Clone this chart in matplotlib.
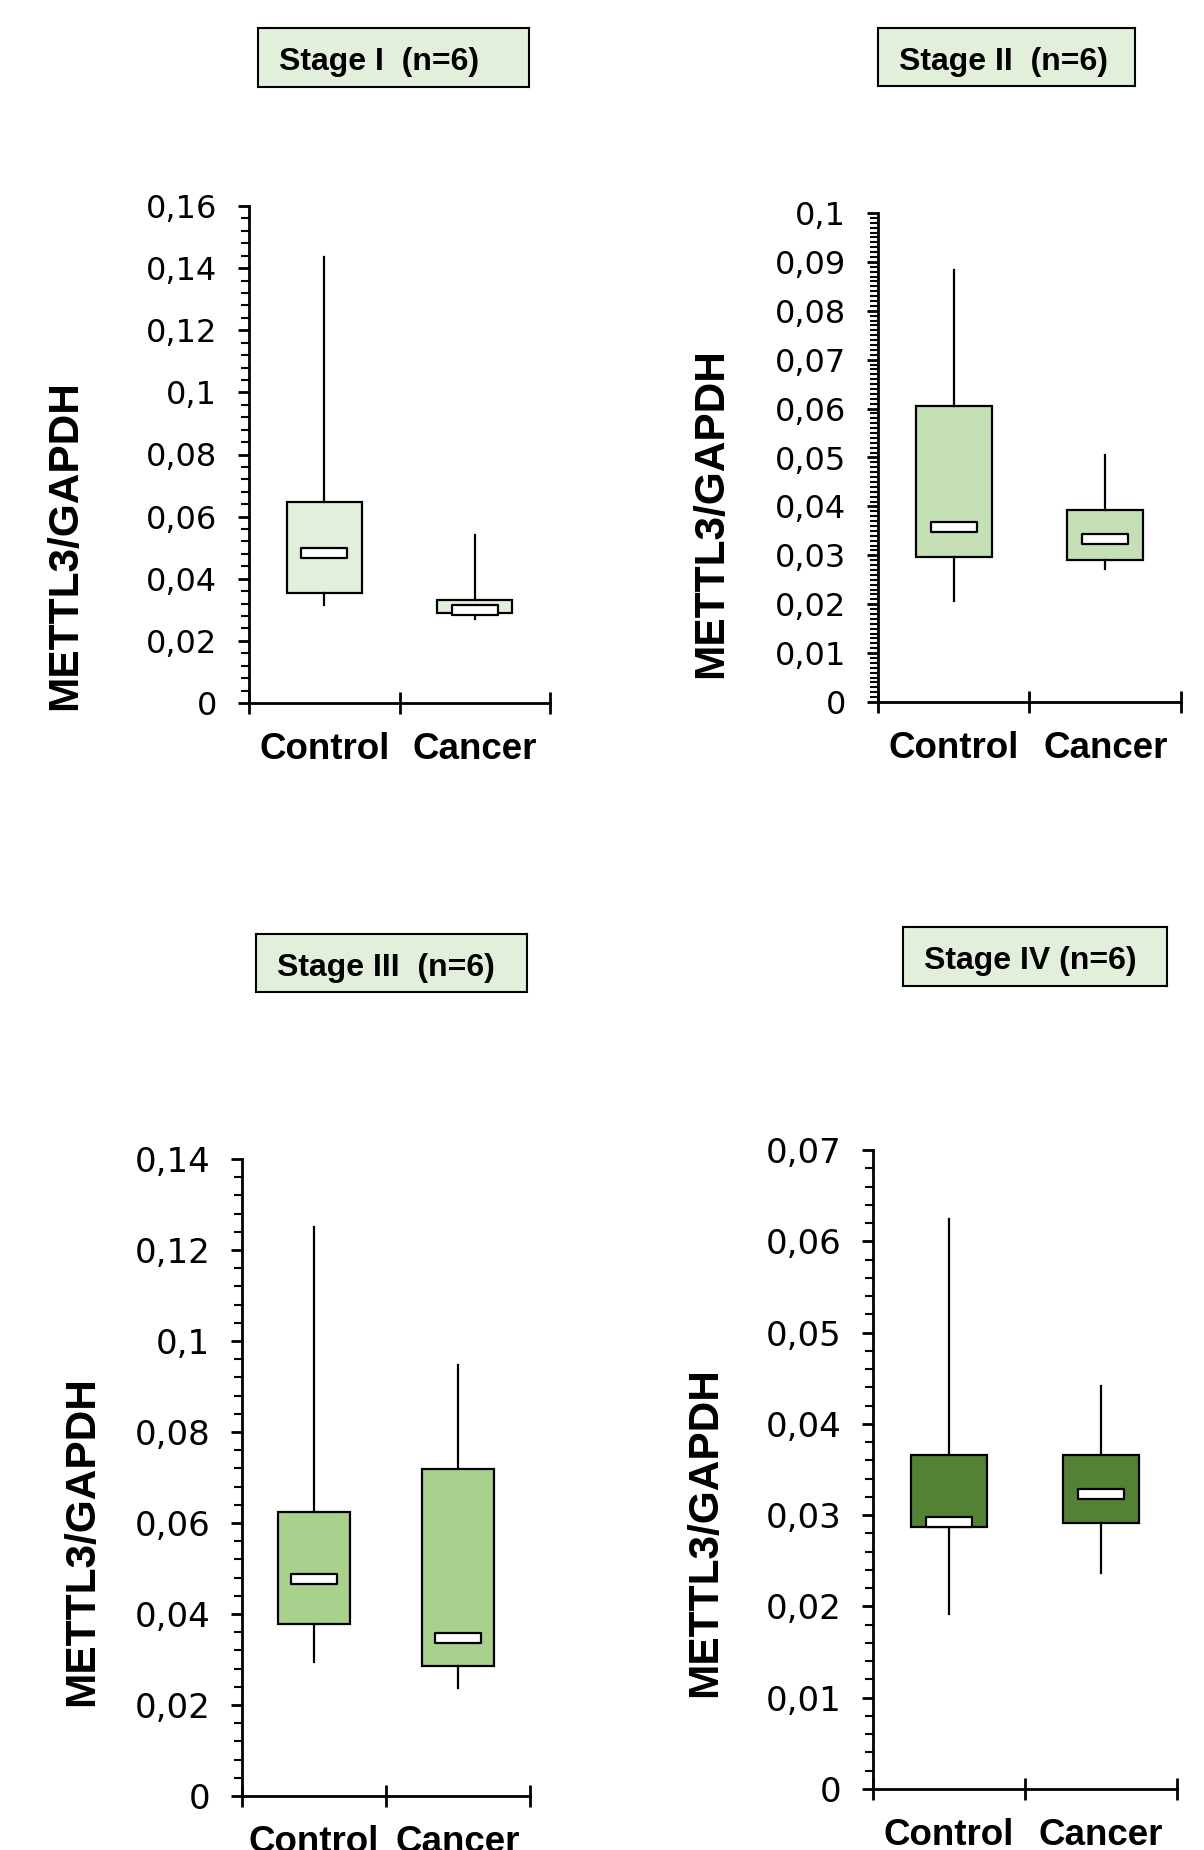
import numpy as np
import matplotlib
matplotlib.use("Agg")
import matplotlib.pyplot as plt
from matplotlib.path import Path
from matplotlib.ticker import MultipleLocator, FixedLocator, FuncFormatter

# values (METTL3/GAPDH), one row per stage, [Control, Cancer]
categories = ["Control", "Cancer"]
stage_titles = ["Stage I  (n=6)", "Stage II  (n=6)", "Stage III  (n=6)", "Stage IV (n=6)"]

whisker_low = [[0.0314, 0.0272], [0.0206, 0.0273], [0.0294, 0.0238], [0.0192, 0.0237]]
q1 = [[0.0353, 0.0289], [0.0296, 0.0291], [0.0378, 0.0286], [0.0287, 0.0291]]
median = [[0.0482, 0.0301], [0.0358, 0.0333], [0.0478, 0.0347], [0.0292, 0.0323]]
q3 = [[0.0648, 0.0333], [0.0605, 0.0392], [0.0625, 0.0719], [0.0366, 0.0366]]
whisker_high = [[0.1436, 0.0541], [0.0883, 0.0506], [0.1251, 0.0948], [0.0624, 0.0441]]

y_max = [0.16, 0.1, 0.14, 0.07]
y_major = [0.02, 0.01, 0.02, 0.01]
y_minor = [0.004, 0.001, 0.004, 0.002]

box_colors = ["#E2EFDA", "#C5E0B4", "#A9D18E", "#548235"]
title_fill = "#E2EFDA"

W, H = 1204, 1850
# layout in pixels (x0, y0, x1, y1), top-left origin
axes_px = [(249, 206, 550, 703), (878, 213, 1181, 702),
           (242, 1159, 530, 1796), (873, 1150, 1177, 1789)]
title_px = [(258, 28, 529, 87), (878, 28, 1135, 86),
            (256, 934, 527, 992), (903, 927, 1167, 986)]
ylabel_px = [(65, 545), (711, 513), (82, 1541), (705, 1532)]
tick_sizes = [23, 23, 24.5, 24.5]

BOLD = "Liberation Sans"


def fig_rect(px):
    x0, y0, x1, y1 = px
    return [x0 / W, (H - y1) / H, (x1 - x0) / W, (y1 - y0) / H]


def comma_fmt(v, pos):
    s = f"{v:.3f}".rstrip("0").rstrip(".")
    return s.replace(".", ",")


# flat white median marker
med_marker = Path([(-1, -0.2), (1, -0.2), (1, 0.2), (-1, 0.2), (-1, -0.2)],
                  [Path.MOVETO, Path.LINETO, Path.LINETO, Path.LINETO, Path.CLOSEPOLY])

fig = plt.figure(figsize=(W / 100, H / 100), dpi=100)

for i in range(4):
    ax = fig.add_axes(fig_rect(axes_px[i]))
    stats = []
    for j in range(2):
        stats.append({"med": median[i][j], "q1": q1[i][j], "q3": q3[i][j],
                      "whislo": whisker_low[i][j], "whishi": whisker_high[i][j],
                      "fliers": []})
    ax.bxp(stats, positions=[1, 2], widths=0.5, patch_artist=True,
           showcaps=False, showfliers=False,
           boxprops=dict(facecolor=box_colors[i], edgecolor="black", linewidth=1.6),
           whiskerprops=dict(color="black", linewidth=1.6),
           medianprops=dict(linewidth=0))
    ax.plot([1, 2], median[i], ls="none", marker=med_marker, ms=33,
            mfc="white", mec="black", mew=1.6, zorder=5)

    ax.set_xlim(0.5, 2.5)
    ax.set_ylim(0, y_max[i])
    for s in ["top", "right"]:
        ax.spines[s].set_visible(False)
    for s in ["left", "bottom"]:
        ax.spines[s].set_linewidth(2)

    ax.yaxis.set_major_locator(MultipleLocator(y_major[i]))
    ax.yaxis.set_minor_locator(MultipleLocator(y_minor[i]))
    ax.yaxis.set_major_formatter(FuncFormatter(comma_fmt))
    ax.tick_params(axis="y", which="major", direction="out", length=8, width=2,
                   pad=15, labelsize=tick_sizes[i])
    ax.tick_params(axis="y", which="minor", direction="out", length=6, width=1.5)

    ax.set_xticks([1, 2])
    ax.set_xticklabels(categories, fontfamily=BOLD, fontweight="bold", fontsize=26.5)
    ax.xaxis.set_minor_locator(FixedLocator([0.5, 1.5, 2.5]))
    ax.tick_params(axis="x", which="major", length=0, pad=21)
    ax.tick_params(axis="x", which="minor", direction="inout", length=16, width=2)

    ax.set_ylabel("METTL3/GAPDH", fontfamily=BOLD, fontweight="bold", fontsize=30.5,
                  va="center")
    x0, y0, x1, y1 = axes_px[i]
    lx, ly = ylabel_px[i]
    ax.yaxis.set_label_coords((lx - x0) / (x1 - x0), (y1 - ly) / (y1 - y0))

    # stage title box
    tx0, ty0, tx1, ty1 = title_px[i]
    tax = fig.add_axes(fig_rect(title_px[i]))
    tax.set_facecolor(title_fill)
    tax.set_xticks([])
    tax.set_yticks([])
    for s in tax.spines.values():
        s.set_linewidth(1.5)
    tax.text(21 / (tx1 - tx0), 0.42, stage_titles[i], transform=tax.transAxes,
             ha="left", va="center", fontfamily=BOLD, fontweight="bold", fontsize=23)

fig.savefig("out.png", dpi=100)
